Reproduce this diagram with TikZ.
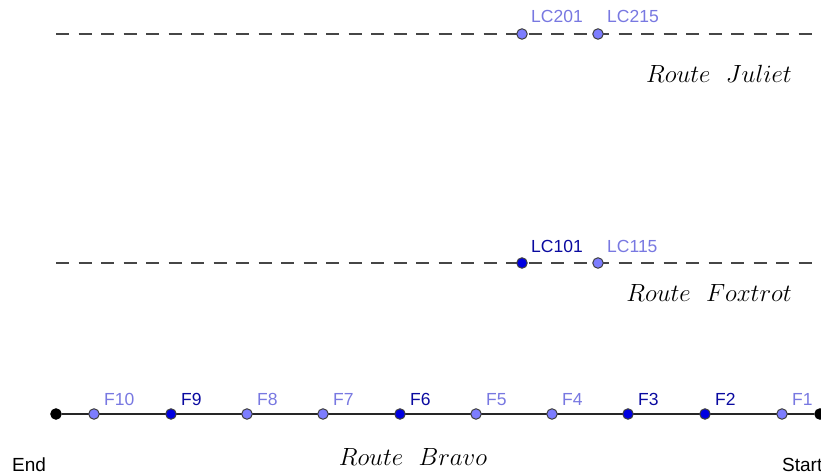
\documentclass[tikz,border=0pt]{standalone}
\usepackage{fontspec}
\setsansfont{Liberation Sans}
\begin{document}
\definecolor{lightpt}{RGB}{125,125,255}
\definecolor{lightlbl}{RGB}{120,120,225}
\definecolor{darkpt}{RGB}{0,0,225}
\definecolor{darklbl}{RGB}{10,10,160}
\definecolor{routeline}{RGB}{70,70,70}
\begin{tikzpicture}[x=1pt,y=-1pt,
  ptbase/.style={circle,inner sep=0pt,minimum size=10.5pt,draw=black!75,line width=1pt},
  lightnode/.style={ptbase,fill=lightpt},
  darknode/.style={ptbase,fill=darkpt},
  endnode/.style={ptbase,fill=black,draw=black},
  lbl/.style={anchor=base west,inner sep=0pt,font=\sffamily\fontsize{17.5}{20}\selectfont},
  lightlabel/.style={lbl,text=lightlbl},
  darklabel/.style={lbl,text=darklbl},
  plain/.style={anchor=base west,inner sep=0pt,font=\sffamily\fontsize{19}{22}\selectfont},
  routename/.style={inner sep=0pt,font=\fontsize{25.5}{30}\selectfont},
  dashedroute/.style={draw=routeline,line width=1.5pt,dash pattern=on 13pt off 9.5pt},
  solidroute/.style={draw=black!85,line width=1.6pt}]
\useasboundingbox (0,0) rectangle (821,476);

% Route Juliet
\coordinate (jl) at (56,34);
\coordinate (jr) at (821,34);
\draw[dashedroute] (jl) -- (jr);
\node[lightnode] (lc201) at (522,34) {};
\node[lightnode] (lc215) at (598,34) {};
\node[lightlabel] at (531,23) {LC201};
\node[lightlabel] at (607,23) {LC215};
\node[routename,anchor=base east] (juliet) at (792,83) {$Route\ \ Juliet$};

% Route Foxtrot
\coordinate (fl) at (56,263);
\coordinate (fr) at (821,263);
\draw[dashedroute] (fl) -- (fr);
\node[darknode] (lc101) at (522,263) {};
\node[lightnode] (lc115) at (598,263) {};
\node[darklabel] at (531,252) {LC101};
\node[lightlabel] at (607,252) {LC115};
\node[routename,anchor=base east] (foxtrot) at (792,301) {$Route\ \ Foxtrot$};

% Route Bravo
\node[endnode] (end) at (56,414) {};
\node[endnode] (start) at (820,414) {};
\draw[solidroute] (end) -- (start);
\foreach \n/\x/\s in {10/94/light,9/171/dark,8/247/light,7/323/light,6/400/dark,
                      5/476/light,4/552/light,3/628/dark,2/705/dark,1/782/light}{
  \node[\s node] (f\n) at (\x,414) {};
  \node[\s label] at (\x+10,405) {F\n};
}
\node[plain] (endlbl) at (12,471) {End};
\node[plain] (startlbl) at (782,471) {Start};
\node[routename,anchor=base] (bravo) at (413,465) {$Route\ \ Bravo$};
\end{tikzpicture}
\end{document}
